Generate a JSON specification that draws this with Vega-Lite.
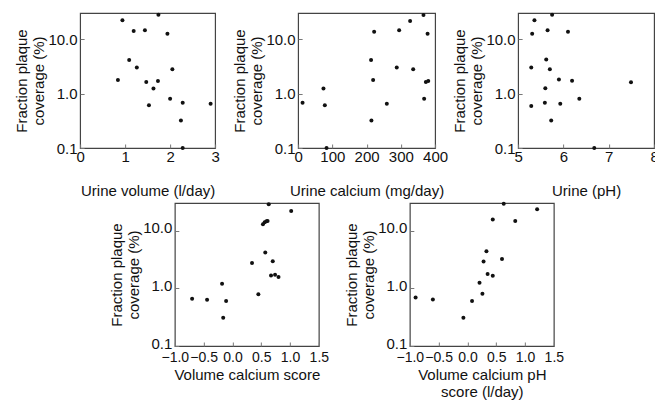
{
  "$schema": "https://vega.github.io/schema/vega-lite/v6.json",
  "padding": {"left": 14, "top": 12, "right": 0, "bottom": 0},
  "background": "white",
  "datasets": {
    "vol": [
      {"x": 0.94, "y": 22.1}, {"x": 1.74, "y": 28}, {"x": 1.19, "y": 14}, {"x": 1.44, "y": 14.5},
      {"x": 1.94, "y": 12.5}, {"x": 1.09, "y": 4.1}, {"x": 1.26, "y": 3.0}, {"x": 2.05, "y": 2.8},
      {"x": 0.84, "y": 1.77}, {"x": 1.47, "y": 1.63}, {"x": 1.73, "y": 1.7}, {"x": 1.63, "y": 1.23},
      {"x": 2.0, "y": 0.8}, {"x": 2.28, "y": 0.68}, {"x": 2.9, "y": 0.65}, {"x": 1.53, "y": 0.61},
      {"x": 2.24, "y": 0.32}, {"x": 2.28, "y": 0.1}
    ],
    "ca": [
      {"x": 13, "y": 0.68}, {"x": 74, "y": 1.23}, {"x": 78, "y": 0.61}, {"x": 213, "y": 4.1},
      {"x": 219, "y": 1.77}, {"x": 222, "y": 13.6}, {"x": 214, "y": 0.32}, {"x": 259, "y": 0.65},
      {"x": 288, "y": 3.0}, {"x": 295, "y": 14.5}, {"x": 327, "y": 21.5}, {"x": 336, "y": 2.8},
      {"x": 366, "y": 27.7}, {"x": 368, "y": 0.8}, {"x": 373, "y": 1.63}, {"x": 380, "y": 1.7},
      {"x": 378, "y": 12.5}, {"x": 83, "y": 0.1}
    ],
    "ph": [
      {"x": 5.36, "y": 22}, {"x": 5.75, "y": 28}, {"x": 5.31, "y": 12.5}, {"x": 5.65, "y": 14.4},
      {"x": 6.10, "y": 13.6}, {"x": 5.62, "y": 4.2}, {"x": 5.29, "y": 3.0}, {"x": 5.70, "y": 2.8},
      {"x": 5.90, "y": 1.8}, {"x": 6.19, "y": 1.72}, {"x": 7.49, "y": 1.61}, {"x": 5.60, "y": 1.25},
      {"x": 6.35, "y": 0.8}, {"x": 5.59, "y": 0.68}, {"x": 5.93, "y": 0.65}, {"x": 5.29, "y": 0.59},
      {"x": 5.73, "y": 0.32}, {"x": 6.68, "y": 0.1}
    ],
    "vcs": [
      {"x": 0.63, "y": 28.5}, {"x": 1.02, "y": 21.9}, {"x": 0.53, "y": 12.8}, {"x": 0.56, "y": 13.9},
      {"x": 0.59, "y": 14.5}, {"x": 0.61, "y": 14.6}, {"x": 0.57, "y": 4.15}, {"x": 0.34, "y": 2.75},
      {"x": 0.70, "y": 2.94}, {"x": 0.67, "y": 1.66}, {"x": 0.74, "y": 1.72}, {"x": 0.80, "y": 1.57},
      {"x": -0.18, "y": 1.2}, {"x": 0.45, "y": 0.79}, {"x": -0.70, "y": 0.66}, {"x": -0.44, "y": 0.63},
      {"x": -0.11, "y": 0.60}, {"x": -0.16, "y": 0.31}
    ],
    "vcph": [
      {"x": -0.90, "y": 0.69}, {"x": -0.60, "y": 0.64}, {"x": -0.07, "y": 0.31}, {"x": 0.08, "y": 0.60},
      {"x": 0.26, "y": 0.80}, {"x": 0.21, "y": 1.25}, {"x": 0.33, "y": 4.4}, {"x": 0.28, "y": 2.9},
      {"x": 0.35, "y": 1.77}, {"x": 0.44, "y": 1.64}, {"x": 0.60, "y": 3.2}, {"x": 0.44, "y": 15.5},
      {"x": 0.63, "y": 29}, {"x": 0.83, "y": 14.7}, {"x": 1.21, "y": 23.4}
    ]
  },
  "vconcat": [
    {
      "hconcat": [
        {
          "width": 135, "height": 135,
          "data": {"name": "vol"},
          "mark": {"type": "circle", "size": 16, "color": "#111", "opacity": 1},
          "encoding": {
            "x": {"field": "x", "type": "quantitative", "scale": {"domain": [0, 3], "nice": false, "zero": false},
                  "axis": {"values": [0, 1, 2, 3], "format": "d", "title": "Urine volume (l/day)", "titlePadding": 19, "labelPadding": 5}},
            "y": {"field": "y", "type": "quantitative", "scale": {"type": "log", "domain": [0.1, 30], "nice": false},
                  "axis": {"values": [0.1, 1, 10], "format": ".1f", "title": ["Fraction plaque", "coverage (%)"]}}
          }
        },
        {
          "width": 137, "height": 135,
          "data": {"name": "ca"},
          "mark": {"type": "circle", "size": 16, "color": "#111", "opacity": 1},
          "encoding": {
            "x": {"field": "x", "type": "quantitative", "scale": {"domain": [0, 400], "nice": false, "zero": false},
                  "axis": {"values": [0, 100, 200, 300, 400], "format": "d", "title": "Urine calcium (mg/day)", "titlePadding": 19, "labelPadding": 5}},
            "y": {"field": "y", "type": "quantitative", "scale": {"type": "log", "domain": [0.1, 30], "nice": false},
                  "axis": {"values": [0.1, 1, 10], "format": ".1f", "title": ["Fraction plaque", "coverage (%)"]}}
          }
        },
        {
          "width": 136, "height": 135,
          "data": {"name": "ph"},
          "mark": {"type": "circle", "size": 16, "color": "#111", "opacity": 1},
          "encoding": {
            "x": {"field": "x", "type": "quantitative", "scale": {"domain": [5, 8], "nice": false, "zero": false},
                  "axis": {"values": [5, 6, 7, 8], "format": "d", "title": "Urine (pH)", "titlePadding": 19, "labelPadding": 5}},
            "y": {"field": "y", "type": "quantitative", "scale": {"type": "log", "domain": [0.1, 30], "nice": false},
                  "axis": {"values": [0.1, 1, 10], "format": ".1f", "title": ["Fraction plaque", "coverage (%)"]}}
          }
        }
      ],
      "spacing": 83,
      "bounds": "flush"
    },
    {
      "hconcat": [
        {
          "width": 144, "height": 143,
          "data": {"name": "vcs"},
          "mark": {"type": "circle", "size": 16, "color": "#111", "opacity": 1},
          "encoding": {
            "x": {"field": "x", "type": "quantitative", "scale": {"domain": [-1, 1.5], "nice": false, "zero": false},
                  "axis": {"values": [-1, -0.5, 0, 0.5, 1, 1.5], "format": ".1f", "title": "Volume calcium score", "titlePadding": 3, "labelPadding": 8, "labelFontSize": 14}},
            "y": {"field": "y", "type": "quantitative", "scale": {"type": "log", "domain": [0.1, 30], "nice": false},
                  "axis": {"values": [0.1, 1, 10], "format": ".1f", "labelOffset": -3, "title": ["Fraction plaque", "coverage (%)"]}}
          }
        },
        {
          "width": 144, "height": 143,
          "data": {"name": "vcph"},
          "mark": {"type": "circle", "size": 16, "color": "#111", "opacity": 1},
          "encoding": {
            "x": {"field": "x", "type": "quantitative", "scale": {"domain": [-1, 1.5], "nice": false, "zero": false},
                  "axis": {"values": [-1, -0.5, 0, 0.5, 1, 1.5], "format": ".1f", "title": ["Volume calcium pH", "score (l/day)"], "titlePadding": 3, "labelPadding": 8, "labelFontSize": 14}},
            "y": {"field": "y", "type": "quantitative", "scale": {"type": "log", "domain": [0.1, 30], "nice": false},
                  "axis": {"values": [0.1, 1, 10], "format": ".1f", "labelOffset": -3, "title": ["Fraction plaque", "coverage (%)"]}}
          }
        }
      ],
      "spacing": 91,
      "bounds": "flush"
    }
  ],
  "spacing": 2,
  "center": true,
  "config": {
    "view": {"stroke": "#444", "strokeWidth": 1.2},
    "font": "Liberation Sans",
    "axis": {
      "grid": false, "domain": false,
      "labelFont": "Liberation Sans", "titleFont": "Liberation Sans",
      "labelFontSize": 15, "titleFontSize": 15, "titleFontWeight": "normal",
      "labelColor": "#111", "titleColor": "#111",
      "tickColor": "#777", "tickSize": -4,
      "labelFlush": false, "labelOverlap": false, "labelPadding": 7,
      "titlePadding": 1
    },
    "axisX": {"labelPadding": 6}
  }
}
